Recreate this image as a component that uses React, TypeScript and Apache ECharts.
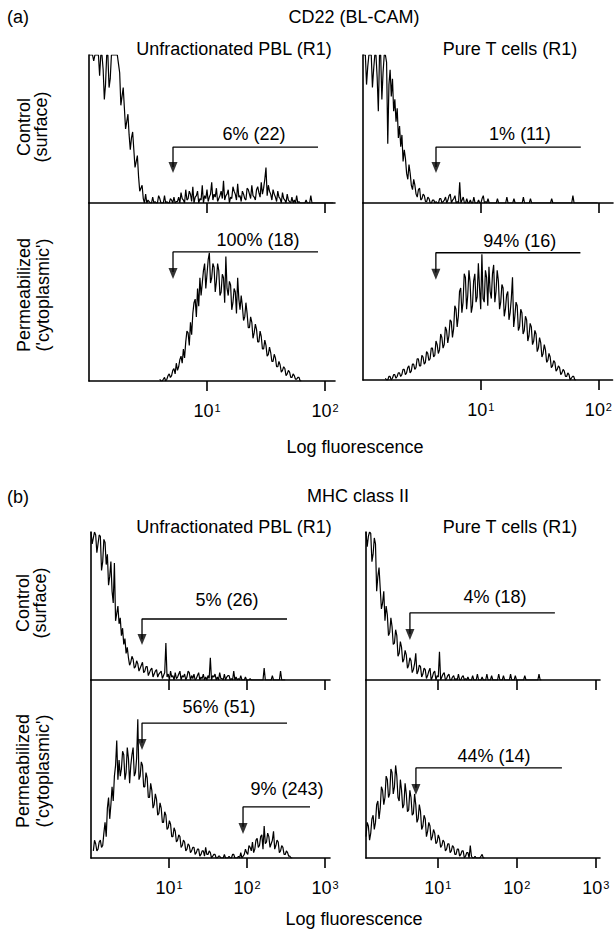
import { useEffect, useRef } from "react";
import * as echarts from "echarts";

const FONT = "'Liberation Sans', Arial, Helvetica, sans-serif";

// Histogram channels are evenly spaced on the log10(fluorescence) axis.
const A_STEP = 0.01;
const B_STEP = 0.015;

// (a) CD22 (BL-CAM) — counts as % of panel height (values of 100 are off-scale)
const aCtrlPblStart = 0;
const aCtrlPbl = [
  100, 100, 100, 100, 96, 100, 100, 100, 100, 86, 100, 100, 90, 70, 80, 100, 100, 78, 84, 100, 100, 100, 100, 100, 100,
  94, 88, 66, 72, 78, 64, 50, 55, 60, 46, 36, 44, 48, 36, 24, 28, 32, 18, 8, 10,
  12, 3, 0, 6, 0, 2, 1, 0, 0, 4, 0, 1, 0, 0, 5, 3, 0, 0, 0, 5, 0, 1, 0, 0, 3, 2, 0, 4, 0, 1,
  1, 4, 0, 7, 3, 2, 0, 9, 2, 3, 8, 6, 1, 11, 0, 4, 5, 8, 0, 3, 2, 12, 0, 5, 3, 9, 1, 4, 6, 14, 2, 6, 4, 10, 1, 3,
  5, 8, 3, 15, 2, 5, 6, 9, 0, 4, 3, 11, 8, 6, 2, 13, 4, 5, 1, 8, 6, 3, 2, 10, 9, 6, 3, 12, 5, 4, 2, 9, 11, 7,
  4, 14, 6, 10, 16, 24, 5, 12, 8, 6, 2, 9, 6, 4, 1, 8, 4, 3, 0, 7, 3, 2, 0, 6, 2, 1, 0, 4, 0, 2, 0, 5, 0, 1,
  0, 0, 0, 0, 0, 2, 0, 0, 0, 5, 0, 0, 0, 0, 0, 0, 0, 0, 0, 0, 0, 0, 0, 0, 0, 0, 0, 0, 0];

const aCtrlTStart = 0;
const aCtrlT = [
  100, 100, 100, 80, 92, 100, 100, 100, 78, 90, 100, 100, 85, 62, 100, 100, 70, 88, 100, 100, 95, 40,
  80, 90, 72, 84, 62, 70, 55, 64, 44, 52, 38, 46, 28, 36, 30, 20, 16, 26, 20, 12, 9, 16, 12, 6, 4, 9,
  10, 2, 3, 6, 5, 1, 1, 4, 3, 0, 0, 2, 2, 0, 1, 0, 0, 3, 3, 0, 1, 2, 4, 0, 2, 5, 6, 0, 2, 3, 5, 0,
  1, 0, 14, 0, 2, 4, 0, 0, 3, 0, 0, 2, 0, 0, 4, 0, 0, 0, 2, 0, 0, 3, 5, 0, 1, 0, 3, 0,
  0, 0, 0, 0, 0, 0, 3, 0, 0, 0, 0, 0, 0, 0, 4, 0, 0, 0, 0, 0, 3, 0, 0, 0, 0, 0, 0, 0, 4, 0,
  0, 0, 0, 0, 3, 0, 0, 0, 0, 0, 0, 0, 0, 0, 0, 0, 0, 0, 0, 0, 0, 0, 3, 0, 0, 0, 0, 0, 0, 0,
  0, 0, 0, 0, 0, 0, 0, 0, 0, 0, 5, 0, 0, 0, 0, 0, 0, 0, 0, 0, 0, 0, 0, 0, 0, 0, 0, 0, 0, 0, 0, 0];

const aPermPblStart = 0.6;
const aPermPbl = [
  1, 0, 0, 1, 2, 0, 1, 3, 4, 2, 3, 6, 7, 4, 10, 6, 8, 12, 14, 10, 18, 13, 22, 28, 27, 20, 33, 26,
  38, 44, 46, 36, 52, 42, 58, 48, 55, 62, 66, 52, 60, 68, 72, 55, 58, 66, 64, 50, 56, 66, 62, 48,
  50, 60, 58, 44, 70, 52, 48, 56, 54, 40, 44, 52, 50, 38, 58, 46, 40, 48, 42, 34, 36, 44, 38, 30,
  30, 36, 33, 24, 27, 32, 29, 22, 22, 28, 25, 18, 18, 23, 20, 14, 15, 19, 16, 11, 11, 15, 13, 8,
  8, 11, 9, 5, 6, 8, 7, 3, 4, 6, 5, 2, 2, 4, 3, 1, 1, 2, 2, 0, 0];

const aPermTStart = 0.19;
const aPermT = [
  1, 0, 0, 2, 2, 0, 1, 3, 3, 1, 2, 4, 4, 2, 3, 6, 6, 3, 4, 7, 8, 4, 5, 9, 9, 6, 7, 12, 12, 8, 8, 14,
  13, 9, 10, 16, 15, 11, 12, 18, 18, 13, 14, 22, 20, 15, 17, 26, 24, 18, 20, 30, 28, 21, 25, 34,
  33, 24, 29, 42, 40, 30, 36, 50, 52, 38, 44, 60, 58, 40, 48, 62, 55, 38, 42, 56, 60, 44, 47, 66,
  52, 40, 71, 46, 44, 62, 58, 42, 64, 50, 46, 60, 65, 44, 50, 62, 56, 40, 44, 54, 52, 36, 40, 48,
  50, 34, 38, 46, 58, 30, 36, 44, 42, 28, 30, 40, 38, 26, 28, 36, 34, 22, 25, 32, 30, 20, 22, 28,
  26, 16, 18, 24, 21, 13, 15, 20, 17, 10, 11, 15, 13, 7, 8, 11, 10, 5, 6, 8, 7, 3, 4, 6, 5, 2,
  2, 4, 3, 0, 1, 2, 2, 0, 0];

// (b) MHC class II
const bCtrlPblStart = 0;
const bCtrlPbl = [
  100, 92, 96, 100, 98, 86, 92, 98, 97, 74, 80, 95, 93, 78, 85, 64, 70, 80, 60, 52, 79, 40, 45, 50,
  38, 42, 30, 35, 24, 28, 18, 22, 15, 10, 12, 16, 14, 8, 9, 13, 11, 6, 8, 10, 12, 5, 6, 9, 9, 3,
  5, 7, 8, 2, 4, 6, 7, 2, 4, 5, 6, 1, 3, 5, 25, 2, 4, 0, 6, 2, 3, 0, 5, 1, 2, 4, 6, 0, 3, 2,
  4, 0, 2, 6, 5, 0, 3, 1, 4, 0, 1, 3, 5, 0, 2, 1, 4, 0, 2, 0, 3, 1, 15, 0, 3, 2, 4, 0, 2, 0,
  5, 1, 1, 0, 4, 0, 2, 3, 3, 0, 1, 0, 6, 0, 2, 0, 1, 0, 3, 0, 0, 0, 2, 0, 0, 0, 1, 0, 0, 0,
  0, 0, 0, 0, 0, 0, 0, 0, 8, 0, 0, 0, 0, 0, 0, 3, 0, 0, 0, 0, 0, 0, 6, 0, 0, 0, 0];

const bCtrlTStart = 0.09;
const bCtrlT = [
  100, 90, 97, 100, 99, 80, 85, 96, 92, 60, 70, 76, 62, 48, 52, 60, 40, 50, 44, 30, 32, 42, 36, 24,
  25, 34, 30, 16, 18, 26, 22, 12, 14, 20, 17, 8, 10, 15, 13, 5, 7, 11, 18, 4, 6, 10, 9, 2, 4, 8,
  7, 1, 3, 6, 8, 0, 2, 5, 6, 0, 3, 2, 19, 0, 2, 4, 5, 0, 1, 3, 4, 0, 0, 2, 3, 0, 1, 0, 4, 0,
  0, 2, 3, 0, 1, 0, 2, 0, 0, 0, 3, 0, 0, 0, 4, 0, 0, 0, 2, 0, 0, 0, 4, 0, 0, 0, 3, 0, 0, 0,
  0, 0, 4, 0, 0, 0, 3, 0, 0, 0, 0, 0, 4, 0, 0, 0, 3, 0, 0, 0, 0, 0, 0, 0, 3, 0, 0, 0, 0, 0,
  0, 0, 0, 0, 0, 0, 4, 0, 0];

const bPermPblStart = 0.03;
const bPermPbl = [
  4, 10, 8, 4, 5, 9, 10, 6, 7, 14, 20, 12, 28, 34, 22, 30, 40, 32, 46, 52, 66, 44, 55, 46, 50, 60,
  58, 44, 48, 62, 56, 42, 52, 58, 62, 46, 48, 56, 78, 44, 46, 54, 52, 40, 40, 48, 45, 34, 34, 42,
  38, 28, 30, 36, 33, 24, 25, 31, 28, 20, 20, 26, 24, 16, 17, 21, 19, 12, 12, 17, 15, 9, 10, 13,
  12, 6, 7, 10, 9, 4, 5, 8, 7, 3, 4, 6, 6, 2, 3, 5, 5, 1, 2, 4, 4, 1, 6, 2, 2, 4, 3, 0, 1, 2,
  2, 0, 0, 1, 1, 0, 0, 0, 2, 0, 0, 0, 1, 0, 0, 2, 2, 0, 0, 0, 1, 0, 3, 0, 1, 2, 5, 3, 2, 7,
  6, 4, 9, 3, 5, 10, 11, 6, 7, 12, 13, 5, 18, 8, 9, 14, 12, 6, 8, 10, 15, 5, 7, 10, 9, 3, 4, 7,
  6, 2, 2, 4, 3, 1, 1, 0, 0];

const bPermTStart = 0.09;
const bPermT = [
  12, 20, 18, 10, 14, 22, 24, 16, 20, 30, 32, 22, 28, 40, 38, 30, 34, 46, 44, 34, 36, 50, 48, 36,
  40, 52, 46, 34, 32, 44, 38, 28, 30, 42, 36, 26, 27, 38, 34, 24, 25, 36, 30, 20, 22, 30, 26, 16,
  18, 24, 22, 12, 15, 20, 18, 10, 12, 16, 14, 8, 9, 13, 11, 6, 7, 10, 9, 4, 5, 8, 8, 3, 4, 7,
  6, 2, 2, 5, 5, 1, 2, 4, 4, 0, 1, 3, 3, 0, 7, 1, 0, 0, 1, 0, 0, 0, 0, 1, 2, 0, 0];

// Gates: threshold, end, line height, arrow tip (axis units); label text and its position
type Gate = { x0: number; x1: number; y: number; tip: number; text: string; lx: number; ly: number };
const gateATL: Gate = { x0: 0.712, x1: 1.941, y: 37.8, tip: 20.3, text: "6% (22)", lx: 1.398, ly: 46.6 };
const gateATR: Gate = { x0: 0.619, x1: 1.847, y: 37.8, tip: 20.3, text: "1% (11)", lx: 1.331, ly: 46.6 };
const gateABL: Gate = { x0: 0.712, x1: 1.941, y: 72.5, tip: 57.3, text: "100% (18)", lx: 1.432, ly: 79.2 };
const gateABR: Gate = { x0: 0.619, x1: 1.847, y: 71.9, tip: 56.7, text: "94% (16)", lx: 1.331, ly: 78.7 };
const gateBTL: Gate = { x0: 0.654, x1: 2.513, y: 41.2, tip: 23.6, text: "5% (26)", lx: 1.744, ly: 54 };
const gateBTR: Gate = { x0: 0.646, x1: 2.481, y: 45.3, tip: 27, text: "4% (18)", lx: 1.722, ly: 56.1 };
const gateBBL1: Gate = { x0: 0.654, x1: 2.513, y: 75.8, tip: 60.7, text: "56% (51)", lx: 1.641, ly: 84.8 };
const gateBBL2: Gate = { x0: 1.949, x1: 2.808, y: 28.7, tip: 13.5, text: "9% (243)", lx: 2.513, ly: 38.8 };
const gateBBR: Gate = { x0: 0.722, x1: 2.57, y: 50.6, tip: 35.4, text: "44% (14)", lx: 1.709, ly: 57.3 };

const aTicks = [1, 2];
const bTicks = [1, 2, 3];

type Panel = {
  grid: { left: number; top: number; width: number; height: number };
  xmin: number;
  xmax: number;
  ticks: number[];
  labels: boolean;
  start: number;
  step: number;
  values: number[];
  gates: Gate[];
};

const panels: Panel[] = [
  { grid: { left: 89, top: 55, width: 246, height: 148 }, xmin: 0, xmax: 2.085, ticks: aTicks, labels: false, start: aCtrlPblStart, step: A_STEP, values: aCtrlPbl, gates: [gateATL] },
  { grid: { left: 89, top: 203, width: 246, height: 178 }, xmin: 0, xmax: 2.085, ticks: aTicks, labels: true, start: aPermPblStart, step: A_STEP, values: aPermPbl, gates: [gateABL] },
  { grid: { left: 363, top: 55, width: 250, height: 148 }, xmin: 0, xmax: 2.12, ticks: aTicks, labels: false, start: aCtrlTStart, step: A_STEP, values: aCtrlT, gates: [gateATR] },
  { grid: { left: 363, top: 203, width: 250, height: 177 }, xmin: 0, xmax: 2.12, ticks: aTicks, labels: true, start: aPermTStart, step: A_STEP, values: aPermT, gates: [gateABR] },
  { grid: { left: 91, top: 532, width: 239, height: 148 }, xmin: 0, xmax: 3.064, ticks: bTicks, labels: false, start: bCtrlPblStart, step: B_STEP, values: bCtrlPbl, gates: [gateBTL] },
  { grid: { left: 91, top: 680, width: 239, height: 178 }, xmin: 0, xmax: 3.064, ticks: bTicks, labels: true, start: bPermPblStart, step: B_STEP, values: bPermPbl, gates: [gateBBL1, gateBBL2] },
  { grid: { left: 366, top: 532, width: 234, height: 148 }, xmin: 0.09, xmax: 3.052, ticks: bTicks, labels: false, start: bCtrlTStart, step: B_STEP, values: bCtrlT, gates: [gateBTR] },
  { grid: { left: 366, top: 680, width: 234, height: 178 }, xmin: 0.09, xmax: 3.052, ticks: bTicks, labels: true, start: bPermTStart, step: B_STEP, values: bPermT, gates: [gateBBR] },
];

const txt = (text: string, x: number, y: number, align: string = "center", rotate = false) => ({
  type: "text",
  x,
  y,
  rotation: rotate ? Math.PI / 2 : 0,
  style: {
    text,
    fill: "#000",
    font: `18px ${FONT}`,
    align,
    verticalAlign: "middle",
  },
});

export default function App() {
  const ref = useRef<HTMLDivElement>(null);
  useEffect(() => {
    document.body.style.margin = "0";
    if (!ref.current) return;
    const chart = echarts.init(ref.current, undefined, { renderer: "svg" });
    const axisLine = { show: true, onZero: false, lineStyle: { color: "#000", width: 1.6 } };
    const xAxis: any[] = [];
    const yAxis: any[] = [];
    const series: any[] = [];
    panels.forEach((p, i) => {
      xAxis.push({
        type: "value",
        gridIndex: i,
        min: p.xmin,
        max: p.xmax,
        axisLine,
        axisTick: { show: true, inside: false, length: 10, customValues: p.ticks, lineStyle: { color: "#000", width: 1.6 } },
        axisLabel: {
          show: p.labels,
          customValues: p.ticks,
          margin: 21,
          formatter: (v: number) => `{b|10}{s|${Math.round(v)}}`,
          rich: {
            b: { fontSize: 18, fontFamily: FONT, color: "#000" },
            s: { fontSize: 11, fontFamily: FONT, color: "#000", verticalAlign: "top", padding: [0, 0, 0, 1] },
          },
        },
        splitLine: { show: false },
      });
      yAxis.push({
        type: "value",
        gridIndex: i,
        min: 0,
        max: 100,
        axisLine,
        axisTick: { show: false },
        axisLabel: { show: false },
        splitLine: { show: false },
      });
      series.push({
        type: "line",
        xAxisIndex: i,
        yAxisIndex: i,
        data: p.values.map((v, k) => [p.start + k * p.step, v]),
        symbol: "none",
        clip: true,
        lineStyle: { color: "#000", width: 1.2 },
        z: 2,
      });
      p.gates.forEach((g) => {
        series.push({
          type: "line",
          xAxisIndex: i,
          yAxisIndex: i,
          data: [[g.x1, g.y], [g.x0, g.y], [g.x0, g.tip + 4]],
          symbol: "none",
          lineStyle: { color: "#000", width: 1.3 },
          z: 3,
        });
        series.push({
          type: "scatter",
          xAxisIndex: i,
          yAxisIndex: i,
          data: [[g.x0, g.tip]],
          symbol: "path://M0,0L10,0L5,12Z",
          symbolSize: [9, 11],
          symbolOffset: [0, "-50%"],
          itemStyle: { color: "#000" },
          z: 4,
        });
        series.push({
          type: "scatter",
          xAxisIndex: i,
          yAxisIndex: i,
          data: [[g.lx, g.ly]],
          symbolSize: 1,
          itemStyle: { color: "rgba(0,0,0,0)" },
          label: {
            show: true,
            position: "inside",
            formatter: g.text,
            color: "#000",
            fontSize: 18,
            fontFamily: FONT,
            textBorderWidth: 0,
            opacity: 1,
          },
          z: 4,
        });
      });
    });

    chart.setOption({
      animation: false,
      backgroundColor: "#fff",
      grid: panels.map((p) => ({ ...p.grid, containLabel: false })),
      xAxis,
      yAxis,
      series,
      graphic: [
        txt("(a)", 7, 17, "left"),
        txt("CD22 (BL-CAM)", 354, 17),
        txt("Unfractionated PBL (R1)", 234, 49),
        txt("Pure T cells (R1)", 510, 49),
        txt("Control", 24, 127, "center", true),
        txt("(surface)", 41, 127, "center", true),
        txt("Permeabilized", 24, 295, "center", true),
        txt("('cytoplasmic')", 43, 295, "center", true),
        txt("Log fluorescence", 355, 447),
        txt("(b)", 7, 497, "left"),
        txt("MHC class II", 358, 496),
        txt("Unfractionated PBL (R1)", 234, 527),
        txt("Pure T cells (R1)", 510, 527),
        txt("Control", 23, 603, "center", true),
        txt("(surface)", 40, 603, "center", true),
        txt("Permeabilized", 23, 771, "center", true),
        txt("('cytoplasmic')", 43, 771, "center", true),
        txt("Log fluorescence", 354, 919),
      ],
    });
    return () => chart.dispose();
  }, []);
  return <div ref={ref} style={{ width: 615, height: 931 }} />;
}
